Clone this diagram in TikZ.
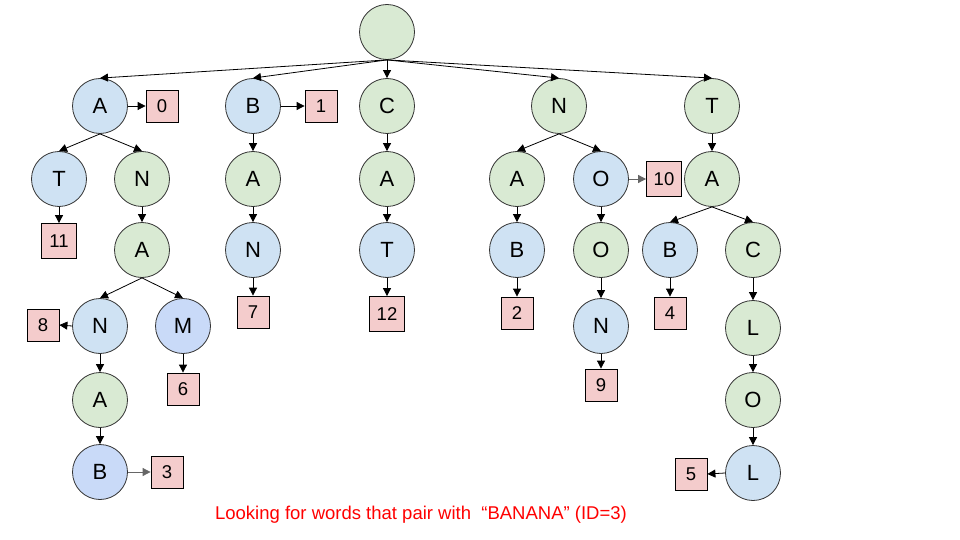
\documentclass[tikz,border=0pt]{standalone}
\usepackage{fontspec}
\setmainfont{Liberation Sans}
\usepackage{tikz}
\usetikzlibrary{arrows.meta}
\definecolor{triegreen}{HTML}{D9EAD3}
\definecolor{trieblue}{HTML}{CFE2F3}
\definecolor{triecorn}{HTML}{C9DAF8}
\definecolor{triepink}{HTML}{F4CCCC}
\definecolor{trieline}{HTML}{333333}

\begin{document}
\begin{tikzpicture}[
  x=1pt, y=-1pt,
  letter/.style={circle, draw=trieline, line width=0.8pt, minimum size=55pt, inner sep=0pt, font=\fontsize{22}{24}\selectfont},
  gnode/.style={letter, fill=triegreen},
  bnode/.style={letter, fill=trieblue},
  cnode/.style={letter, fill=triecorn},
  idbox/.style={rectangle, draw=black, line width=0.8pt, fill=triepink, minimum size=32pt, inner sep=0pt, font=\fontsize{18.5}{20}\selectfont},
  widebox/.style={idbox, minimum size=35pt},
  link/.style={draw=black, line width=0.8pt, -{Triangle[length=8pt,width=8pt]}},
  greylink/.style={link, draw=black!60},
]
  \useasboundingbox (0,0) rectangle (960,540);

  % root and first letters
  \node[gnode] (r) at (387,32) {};
  \node[bnode] (a) at (100,106) {A};
  \node[bnode] (b) at (253,106) {B};
  \node[gnode] (c) at (387,106) {C};
  \node[gnode] (n) at (559,106) {N};
  \node[gnode] (t) at (712,106) {T};

  % second letters
  \node[bnode] (at) at (59,179) {T};
  \node[gnode] (an) at (142,179) {N};
  \node[gnode] (ba) at (253,179) {A};
  \node[gnode] (ca) at (387,179) {A};
  \node[gnode] (na) at (517,179) {A};
  \node[bnode] (no) at (601,179) {O};
  \node[gnode] (ta) at (712,179) {A};

  % deeper letters
  \node[gnode] (ana) at (142,250) {A};
  \node[bnode] (ban) at (253,250) {N};
  \node[bnode] (cat) at (387,250) {T};
  \node[bnode] (nab) at (517,250) {B};
  \node[gnode] (noo) at (601,250) {O};
  \node[bnode] (tab) at (670,250) {B};
  \node[gnode] (tac) at (753,250) {C};
  \node[bnode] (anan) at (100,326) {N};
  \node[cnode] (anam) at (183,326) {M};
  \node[bnode] (noon) at (601,326) {N};
  \node[gnode] (tacl) at (753,328) {L};
  \node[gnode] (anana) at (100,400) {A};
  \node[gnode] (taclo) at (753,400) {O};
  \node[cnode] (ananab) at (100,472) {B};
  \node[bnode] (taclol) at (753,473) {L};

  % word ids
  \node[idbox] (id0) at (162,106) {0};
  \node[idbox] (id1) at (321,106) {1};
  \node[widebox] (id10) at (664,179) {10};
  \node[widebox] (id11) at (59,241) {11};
  \node[idbox] (id7) at (253,312) {7};
  \node[widebox] (id12) at (387,314) {12};
  \node[idbox] (id2) at (517,313) {2};
  \node[idbox] (id4) at (670,313) {4};
  \node[idbox] (id8) at (43,325) {8};
  \node[idbox] (id6) at (183,389) {6};
  \node[idbox] (id9) at (601,385) {9};
  \node[idbox] (id3) at (167,472) {3};
  \node[idbox] (id5) at (691,474) {5};

  % trie edges
  \foreach \p/\q in {r/a, r/b, r/c, r/n, r/t, a/at, a/an, an/ana, ana/anan, ana/anam,
    anan/anana, anana/ananab, b/ba, ba/ban, c/ca, ca/cat, n/na, n/no, na/nab,
    no/noo, noo/noon, t/ta, ta/tab, ta/tac, tac/tacl, tacl/taclo, taclo/taclol,
    at/id11, ban/id7, cat/id12, nab/id2, tab/id4, anam/id6, noon/id9}
    \draw[link] (\p.south) -- (\q.north);

  \draw[link] (a.east) -- (id0.west);
  \draw[link] (b.east) -- (id1.west);
  \draw[link] (anan.west) -- (id8.east);
  \draw[link] (taclol.west) -- (id5.east);
  \draw[greylink] (no.east) -- (id10.west);
  \draw[greylink] (ananab.east) -- (id3.west);

  \node[text=red, font=\fontsize{18.5}{20}\selectfont, anchor=base] (note) at (421,519)
    {Looking for words that pair with \ “BANANA” (ID=3)};
\end{tikzpicture}
\end{document}
